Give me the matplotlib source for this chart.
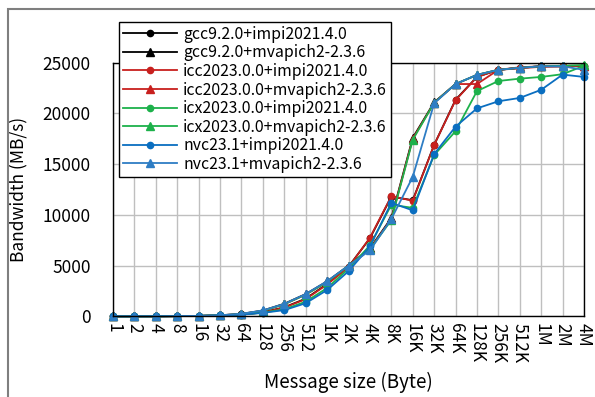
import numpy as np
import matplotlib
matplotlib.use("Agg")
import matplotlib.pyplot as plt
from matplotlib.patches import Rectangle

plt.rcParams['font.family'] = ['Noto Sans CJK JP', 'DejaVu Sans']

# message sizes (category axis)
sizes = ['1', '2', '4', '8', '16', '32', '64', '128', '256', '512',
         '1K', '2K', '4K', '8K', '16K', '32K', '64K', '128K', '256K', '512K',
         '1M', '2M', '4M']

# bandwidth in MB/s
gcc_impi = [3, 6, 12, 25, 50, 100, 190, 400, 900, 1750, 3200, 4900, 7700, 11800,
            11450, 16900, 21350, 23600, 24300, 24500, 24650, 24650, 24700]
gcc_mvapich = [3, 6, 12, 25, 50, 110, 250, 580, 1250, 2200, 3450, 5000, 6700, 9700,
               17600, 21100, 22900, 23800, 24300, 24500, 24650, 24650, 24700]
icc_impi = [3, 6, 12, 25, 50, 100, 180, 380, 870, 1700, 3150, 4850, 7750, 11850,
            11400, 16900, 21300, 23600, 24300, 24450, 24600, 24650, 24700]
icc_mvapich = [3, 6, 12, 25, 50, 105, 240, 550, 1200, 2150, 3400, 4950, 6650, 9600,
               17500, 21050, 22900, 22900, 24300, 24550, 24650, 24700, 24700]
icx_impi = [3, 6, 12, 25, 50, 100, 180, 370, 700, 1450, 2800, 4700, 7000, 11000,
            10700, 15900, 18250, 22200, 23200, 23430, 23600, 23870, 24700]
icx_mvapich = [3, 6, 12, 25, 50, 105, 240, 550, 1200, 2150, 3400, 5000, 6600, 9500,
               17400, 21050, 22900, 23800, 24300, 24500, 24650, 24700, 24770]
nvc_impi = [3, 6, 12, 25, 50, 100, 170, 350, 620, 1300, 2600, 4450, 6900, 11200,
            10450, 16000, 18700, 20500, 21200, 21530, 22330, 23830, 23600]
nvc_mvapich = [3, 6, 12, 25, 50, 110, 260, 590, 1230, 2200, 3470, 5000, 6500, 9600,
               13750, 21000, 22900, 23800, 24300, 24500, 24650, 24650, 24300]

series = [
    ('gcc9.2.0+impi2021.4.0', gcc_impi, '#000000', 'o'),
    ('gcc9.2.0+mvapich2-2.3.6', gcc_mvapich, '#000000', '^'),
    ('icc2023.0.0+impi2021.4.0', icc_impi, '#C8201E', 'o'),
    ('icc2023.0.0+mvapich2-2.3.6', icc_mvapich, '#C8201E', '^'),
    ('icx2023.0.0+impi2021.4.0', icx_impi, '#1DB14B', 'o'),
    ('icx2023.0.0+mvapich2-2.3.6', icx_mvapich, '#1DB14B', '^'),
    ('nvc23.1+impi2021.4.0', nvc_impi, '#0A6EC0', 'o'),
    ('nvc23.1+mvapich2-2.3.6', nvc_mvapich, '#2E7DC4', '^'),
]

fig = plt.figure(figsize=(5.95, 3.97), dpi=100)
ax = fig.add_axes([0.19, 0.203, 0.7915, 0.639])

x = np.arange(len(sizes))
for label, vals, color, marker in series:
    ax.plot(x, vals, color=color, marker=marker, lw=1.3,
            markersize=4.5 if marker == 'o' else 6, label=label, clip_on=False)

ax.set_xlim(0, len(sizes) - 1)
ax.set_ylim(0, 25000)
ax.set_yticks(np.arange(0, 25001, 5000))
ax.set_xticks(x)
ax.set_xticklabels(sizes, rotation=270, fontsize=12.5)
ax.tick_params(axis='y', labelsize=12.5, length=0, pad=16)
ax.tick_params(axis='x', length=0, pad=5)
ax.grid(True, color='#BFBFBF', lw=1)
ax.set_axisbelow(True)
for s in ax.spines.values():
    s.set_color('#000000')
    s.set_linewidth(1)

ax.set_xlabel('Message size (Byte)', fontsize=13.5, labelpad=6)
ax.set_ylabel('Bandwidth (MB/s)', fontsize=12.5, labelpad=10)

leg = fig.legend(loc='upper left', bbox_to_anchor=(0.2, 0.945), fontsize=11.4,
                 frameon=True, fancybox=False, edgecolor='#000000',
                 borderaxespad=0, handlelength=3.4, labelspacing=0.1,
                 borderpad=0.25, handletextpad=0.4)
leg.get_frame().set_linewidth(1)
leg.get_frame().set_alpha(1)

# outer chart border (only left and top edges visible)
fig.patches.append(Rectangle((8 / 595, -0.5), 2, 0.5 + 1 - 9 / 397,
                             transform=fig.transFigure, fill=False,
                             edgecolor='#7F7F7F', lw=1.5))

fig.savefig('out.png', dpi=100)
